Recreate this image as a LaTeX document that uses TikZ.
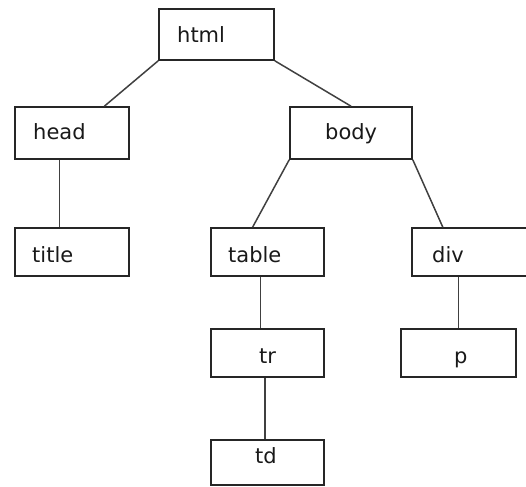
\documentclass[tikz,border=0pt]{standalone}
\usepackage{fontspec}
\setmainfont{DejaVu Sans}
\usetikzlibrary{calc}
\tikzset{
  treebox/.style={draw=black!85, line width=1.6pt, rectangle, inner sep=0pt},
  tag/.style={anchor=base west, inner sep=0pt, text=black!90,
    font=\fontsize{21}{21}\selectfont},
  link/.style={draw=black!75, line width=1.5pt},
}
\begin{document}
\begin{tikzpicture}[x=1pt, y=-1pt]
\useasboundingbox (0,0) rectangle (526,486);
\clip (0,0) rectangle (526,486);
% boxes, placed by their corners
\node[treebox, minimum width=115pt, minimum height=51pt] (html)  at (216.5,34.5) {};
\node[treebox, minimum width=114pt, minimum height=52pt] (head)  at (72,133) {};
\node[treebox, minimum width=122pt, minimum height=52pt] (body)  at (351,133) {};
\node[treebox, minimum width=114pt, minimum height=48pt] (title) at (72,252) {};
\node[treebox, minimum width=113pt, minimum height=48pt] (table) at (267.5,252) {};
\node[treebox, minimum width=120pt, minimum height=48pt] (div)   at (472,252) {};
\node[treebox, minimum width=113pt, minimum height=48pt] (tr)    at (267.5,353) {};
\node[treebox, minimum width=115pt, minimum height=48pt] (p)     at (458.5,353) {};
\node[treebox, minimum width=113pt, minimum height=45pt] (td)    at (267.5,462.5) {};
% labels
\node[tag] (html-t)  at (177,43)  {html};
\node[tag] (head-t)  at (33,140)  {head};
\node[tag] (body-t)  at (325,140) {body};
\node[tag] (title-t) at (32,262)  {title};
\node[tag] (table-t) at (228,262) {table};
\node[tag] (div-t)   at (432,262) {div};
\node[tag] (tr-t)    at (259,363) {tr};
\node[tag] (p-t)     at (454,363) {p};
\node[tag] (td-t)    at (255,463) {td};
% connectors
\draw[link] (html.south west) -- ($(head.north west)!0.78!(head.north east)$);
\draw[link] (html.south east) -- (body.north);
\draw[link] ($(head.south west)!0.39!(head.south east)$) coordinate (h1) -- (h1 |- title.north);
\draw[link] (body.south west) -- ($(table.north west)!0.37!(table.north east)$);
\draw[link] (body.south east) -- ($(div.north west)!0.26!(div.north east)$);
\draw[link] ($(table.south west)!0.44!(table.south east)$) coordinate (t1) -- (t1 |- tr.north);
\draw[link] ($(tr.south west)!0.48!(tr.south east)$) coordinate (t2) -- (t2 |- td.north);
\draw[link] ($(div.south west)!0.39!(div.south east)$) coordinate (d1) -- (d1 |- p.north);
\end{tikzpicture}
\end{document}
